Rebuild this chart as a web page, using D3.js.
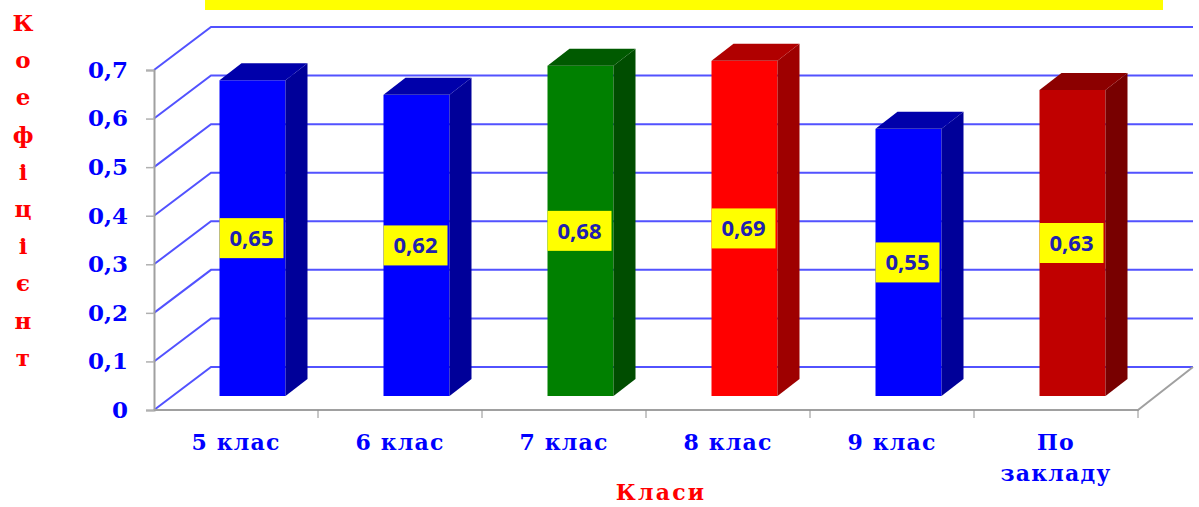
<!DOCTYPE html>
<html>
<head>
<meta charset="utf-8">
<script src="https://cdn.jsdelivr.net/npm/d3@7"></script>
<style>
  body { margin: 0; background: #fff; }
  svg { display: block; }
</style>
</head>
<body>
<div id="chart"></div>
<script>
// chart data
const categories = ['5 клас', '6 клас', '7 клас', '8 клас', '9 клас', 'По закладу'];
const values = [0.65, 0.62, 0.68, 0.69, 0.55, 0.63];
const frontColors = ['#0000FF', '#0000FF', '#008000', '#FF0000', '#0000FF', '#C00000'];
const sideColors = ['#000099', '#000099', '#004D00', '#9E0000', '#000099', '#780000'];
const topColors = ['#0000AA', '#0000AA', '#005A00', '#B00000', '#0000AA', '#8C0000'];
const yTicks = [0, 0.1, 0.2, 0.3, 0.4, 0.5, 0.6, 0.7];
const yTitle = 'Коефіцієнт';
const xTitle = 'Класи';

const width = 1199, height = 507;
// 3d offsets
const depthX = 57, depthY = -43;          // floor front -> back wall
const faceX = 18.5, faceY = -14;          // floor front -> bar front face
const barDX = 22, barDY = -17;            // bar depth

const svg = d3.select('#chart').append('svg')
	.attr('width', width)
	.attr('height', height);

const x = d3.scaleBand()
	.domain(categories)
	.range([154, 1138])
	.padding(0);

const y = d3.scaleLinear()
	.domain([0, 0.7])
	.range([410, 70]);

// title strip (text runs off the top)
svg.append('rect')
	.attr('x', 205).attr('y', -20)
	.attr('width', 958).attr('height', 30)
	.attr('fill', '#FFFF00');

// gridlines: side wall diagonal + back wall
const grid = svg.append('g');
yTicks.forEach(function(t) {
	const y0 = y(t);
	grid.append('path')
		.attr('d', `M${x.range()[0]},${y0} L${x.range()[0] + depthX},${y0 + depthY} L1193,${y0 + depthY}`)
		.attr('fill', 'none')
		.attr('stroke', '#5252FF')
		.attr('stroke-width', 2);
});

// floor edges
svg.append('path')
	.attr('d', `M${x.range()[0]},410 L${x.range()[1]},410 L${x.range()[1] + depthX - 2},${410 + depthY}`)
	.attr('fill', 'none')
	.attr('stroke', '#A0A0A0')
	.attr('stroke-width', 2);

// y axis
const yAxis = svg.append('g')
	.attr('transform', `translate(${x.range()[0]},0)`)
	.call(d3.axisLeft(y).tickValues(yTicks).tickSize(8).tickPadding(18)
		.tickFormat(d => d === 0 ? '0' : d3.format('.1f')(d).replace('.', ',')));
yAxis.select('.domain').attr('stroke', '#A0A0A0').attr('stroke-width', 2);
yAxis.selectAll('.tick line').attr('stroke', '#B0B0B0').attr('stroke-width', 1.5);
yAxis.selectAll('.tick text')
	.attr('fill', '#0000FF')
	.attr('font-family', '"DejaVu Serif", serif')
	.attr('font-weight', 'bold')
	.attr('font-size', 23);

// x axis
const xAxis = svg.append('g')
	.attr('transform', 'translate(0,410)')
	.call(d3.axisBottom(x).tickSize(0).tickPadding(0));
xAxis.select('.domain').remove();
xAxis.selectAll('.tick text').remove();
x.domain().forEach(function(c) {
	xAxis.append('line')
		.attr('x1', x(c) + x.bandwidth()).attr('x2', x(c) + x.bandwidth())
		.attr('y1', 0).attr('y2', 8)
		.attr('stroke', '#909090').attr('stroke-width', 1);
});

const xLabels = svg.append('g');
categories.forEach(function(c) {
	const lines = c === 'По закладу' ? ['По', 'закладу'] : [c];
	const t = xLabels.append('text')
		.attr('x', x(c) + x.bandwidth() / 2)
		.attr('y', 450)
		.attr('text-anchor', 'middle')
		.attr('fill', '#0000FF')
		.attr('font-family', '"DejaVu Serif", serif')
		.attr('font-weight', 'bold')
		.attr('font-size', 22)
		.attr('letter-spacing', 1.2);
	lines.forEach(function(l, i) {
		t.append('tspan')
			.attr('x', x(c) + x.bandwidth() / 2)
			.attr('dy', i === 0 ? 0 : 31)
			.text(l);
	});
});

// bars
const barW = 66;
const bars = svg.append('g')
	.selectAll('g')
	.data(values)
	.enter()
	.append('g');

function barGeom(d, i) {
	const left = x(categories[i]) + faceX + (x.bandwidth() - barW) / 2 - 2;
	const top = y(d) + faceY;
	const bottom = y(0) + faceY;
	return {left: left, right: left + barW, top: top, bottom: bottom};
}

bars.append('rect')
	.attr('x', (d, i) => barGeom(d, i).left)
	.attr('y', (d, i) => barGeom(d, i).top)
	.attr('width', barW)
	.attr('height', (d, i) => barGeom(d, i).bottom - barGeom(d, i).top)
	.attr('fill', (d, i) => frontColors[i]);

bars.append('path')
	.attr('d', function(d, i) {
		const g = barGeom(d, i);
		return `M${g.right},${g.top} L${g.right + barDX},${g.top + barDY} L${g.right + barDX},${g.bottom + barDY} L${g.right},${g.bottom} Z`;
	})
	.attr('fill', (d, i) => sideColors[i]);

bars.append('path')
	.attr('d', function(d, i) {
		const g = barGeom(d, i);
		return `M${g.left},${g.top} L${g.left + barDX},${g.top + barDY} L${g.right + barDX},${g.top + barDY} L${g.right},${g.top} Z`;
	})
	.attr('fill', (d, i) => topColors[i]);

// value labels
bars.append('rect')
	.attr('x', (d, i) => barGeom(d, i).left)
	.attr('y', (d, i) => (barGeom(d, i).top + barGeom(d, i).bottom) / 2 - 20)
	.attr('width', barW - 2)
	.attr('height', 40)
	.attr('fill', '#FFFF00');

bars.append('text')
	.attr('x', (d, i) => barGeom(d, i).left + (barW - 2) / 2)
	.attr('y', (d, i) => (barGeom(d, i).top + barGeom(d, i).bottom) / 2)
	.attr('dy', '0.36em')
	.attr('text-anchor', 'middle')
	.attr('fill', '#2020B0')
	.attr('font-family', '"Open Sans", sans-serif')
	.attr('font-weight', 'bold')
	.attr('font-size', 22)
	.text(d => d3.format('.2f')(d).replace('.', ','));

// axis titles
svg.append('text')
	.attr('x', 661)
	.attr('y', 500)
	.attr('text-anchor', 'middle')
	.attr('fill', '#FF0000')
	.attr('font-family', '"DejaVu Serif", serif')
	.attr('font-weight', 'bold')
	.attr('font-size', 22)
	.attr('letter-spacing', 2.2)
	.text(xTitle);

svg.append('g')
	.selectAll('text')
	.data(yTitle.split(''))
	.enter()
	.append('text')
	.attr('x', 23)
	.attr('y', (d, i) => 23 + i * 37.2)
	.attr('dy', '0.35em')
	.attr('text-anchor', 'middle')
	.attr('fill', '#FF0000')
	.attr('font-family', '"DejaVu Serif", serif')
	.attr('font-weight', 'bold')
	.attr('font-size', 23)
	.text(d => d);
</script>
</body>
</html>
